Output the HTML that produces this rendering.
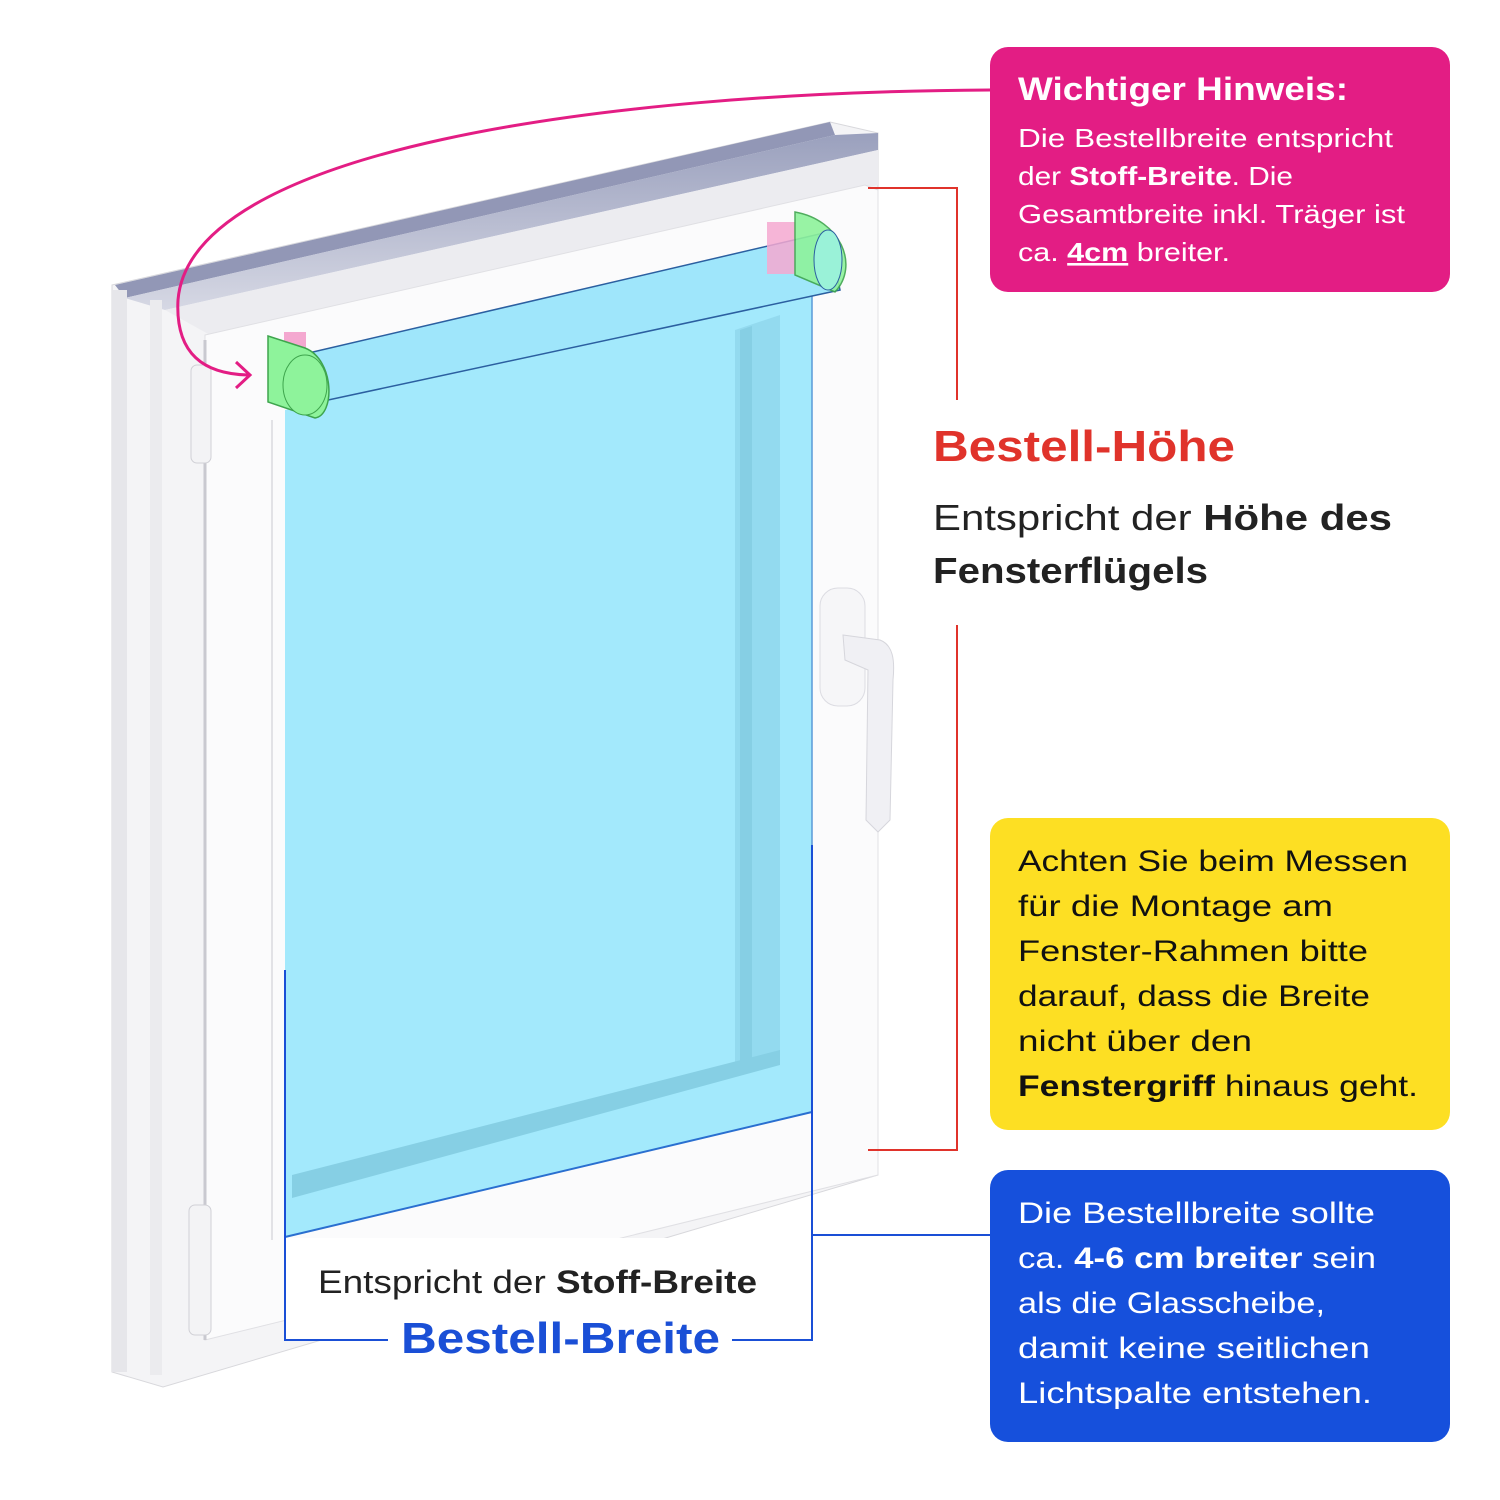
<!DOCTYPE html>
<html><head><meta charset="utf-8"><style>html,body{margin:0;padding:0;background:#fff}svg{display:block}text{font-family:"Liberation Sans",sans-serif}</style></head><body>
<svg width="1500" height="1500" viewBox="0 0 1500 1500" xmlns="http://www.w3.org/2000/svg">
<defs>
<linearGradient id="rail" x1="0" y1="0" x2="0" y2="1"><stop offset="0" stop-color="#9aa0bd"/><stop offset="1" stop-color="#d6d8e4"/></linearGradient>
</defs>
<polygon points="112,285 830,122 878,133 878,1175 163,1387 112,1372" fill="#f4f4f6" stroke="#d8d8dc"/>
<polygon points="115,285 830,122 835,135 125,298" fill="#9297b6"/>
<polygon points="125,298 835,135 878,133 878,150 165,310" fill="url(#rail)"/>
<polygon points="165,310 878,150 878,185 210,335" fill="#ececf0"/>
<rect x="112" y="290" width="15" height="1082" fill="#e6e6ea"/>
<rect x="150" y="300" width="12" height="1075" fill="#ebebee"/>
<polygon points="205,335 865,185 878,190 878,1175 205,1340" fill="#fbfbfc" stroke="#e0e0e4"/>
<line x1="205" y1="340" x2="205" y2="1340" stroke="#c9c9d0" stroke-width="3"/>
<line x1="272" y1="420" x2="272" y2="1240" stroke="#e2e2e6" stroke-width="2"/>
<rect x="191" y="365" width="20" height="98" rx="6" fill="#f3f3f5" stroke="#d0d0d6"/>
<rect x="189" y="1205" width="22" height="130" rx="6" fill="#f3f3f5" stroke="#d0d0d6"/>
<polygon points="285,410 812,295 812,1112 285,1237" fill="#a3e9fc"/>
<polygon points="735,330 780,315 780,1055 735,1068" fill="#93daef"/>
<polygon points="740,330 752,326 752,1062 740,1066" fill="#86cfe4"/>
<polygon points="292,1175 780,1050 780,1065 292,1198" fill="#86cfe4"/>
<line x1="285" y1="1237" x2="812" y2="1112" stroke="#2a6fd0" stroke-width="2"/>
<line x1="812" y1="295" x2="812" y2="1112" stroke="#5a9ad8" stroke-width="1.5"/>
<polygon points="300,355 828,232 840,290 305,405" fill="#9fe6fb" stroke="#2b5fa0" stroke-width="1.5"/>
<rect x="767" y="222" width="28" height="52" fill="#f4a8d0" opacity=".85"/>
<path d="M795,212 C840,220 860,265 835,292 L795,275 Z" fill="#8ef39b" stroke="#3ea54d" stroke-width="1.5" opacity=".9"/>
<ellipse cx="828" cy="260" rx="14" ry="30" fill="#9af2d8" stroke="#2b5fa0"/>
<rect x="284" y="332" width="22" height="30" fill="#f4a8d0"/>
<path d="M268,336 L305,348 C335,360 335,415 315,418 L268,402 Z" fill="#8ef39b" stroke="#3ea54d" stroke-width="1.5"/>
<ellipse cx="305" cy="385" rx="22" ry="30" fill="#8ef39b" stroke="#3ea54d"/>
<rect x="820" y="588" width="45" height="118" rx="18" fill="#f6f6f8" stroke="#dcdce2"/>
<path d="M843,635 L880,640 C893,645 895,660 893,680 L890,820 L878,832 L866,820 L868,670 L845,660 Z" fill="#f0f0f4" stroke="#d6d6dc"/>
<rect x="286" y="1238" width="525" height="101" fill="#fff"/>
<polyline points="868,188 957,188 957,400" fill="none" stroke="#e0332b" stroke-width="2"/>
<polyline points="957,625 957,1150 868,1150" fill="none" stroke="#e0332b" stroke-width="2"/>
<polyline points="285,970 285,1340 388,1340" fill="none" stroke="#1a4fd6" stroke-width="2"/>
<polyline points="732,1340 812,1340 812,845" fill="none" stroke="#1a4fd6" stroke-width="2"/>
<line x1="812" y1="1235" x2="990" y2="1235" stroke="#1a4fd6" stroke-width="2"/>
<path d="M990,90 C600,92 190,150 178,300 C175,355 205,374 248,375" fill="none" stroke="#e31d84" stroke-width="3"/>
<polyline points="236,362 250,375 236,388" fill="none" stroke="#e31d84" stroke-width="3"/>
<rect x="990" y="47" width="460" height="245" rx="18" fill="#e31d84"/>
<rect x="990" y="818" width="460" height="312" rx="18" fill="#fddf23"/>
<rect x="990" y="1170" width="460" height="272" rx="18" fill="#1650dc"/>
<g fill="#fff" font-size="26">
<text x="1018" y="100" font-size="32" font-weight="bold" textLength="330" lengthAdjust="spacingAndGlyphs">Wichtiger Hinweis:</text>
<text x="1018" y="147" textLength="375" lengthAdjust="spacingAndGlyphs">Die Bestellbreite entspricht</text>
<text x="1018" y="185" textLength="275" lengthAdjust="spacingAndGlyphs">der <tspan font-weight="bold">Stoff-Breite</tspan>. Die</text>
<text x="1018" y="223" textLength="387" lengthAdjust="spacingAndGlyphs">Gesamtbreite inkl. Träger ist</text>
<text x="1018" y="261" textLength="212" lengthAdjust="spacingAndGlyphs">ca. <tspan font-weight="bold" text-decoration="underline">4cm</tspan> breiter.</text>
</g>
<text x="933" y="461" font-size="44" font-weight="bold" fill="#e0332b" textLength="302" lengthAdjust="spacingAndGlyphs">Bestell-Höhe</text>
<text x="933" y="530" font-size="36" fill="#222" textLength="459" lengthAdjust="spacingAndGlyphs">Entspricht der <tspan font-weight="bold">Höhe des</tspan></text>
<text x="933" y="583" font-size="36" fill="#222" font-weight="bold" textLength="275" lengthAdjust="spacingAndGlyphs">Fensterflügels</text>
<g fill="#111" font-size="30">
<text x="1018" y="871" textLength="390" lengthAdjust="spacingAndGlyphs">Achten Sie beim Messen</text>
<text x="1018" y="916" textLength="315" lengthAdjust="spacingAndGlyphs">für die Montage am</text>
<text x="1018" y="961" textLength="350" lengthAdjust="spacingAndGlyphs">Fenster-Rahmen bitte</text>
<text x="1018" y="1006" textLength="352" lengthAdjust="spacingAndGlyphs">darauf, dass die Breite</text>
<text x="1018" y="1051" textLength="234" lengthAdjust="spacingAndGlyphs">nicht über den</text>
<text x="1018" y="1096" textLength="400" lengthAdjust="spacingAndGlyphs"><tspan font-weight="bold">Fenstergriff</tspan> hinaus geht.</text>
</g>
<g fill="#fff" font-size="30">
<text x="1018" y="1223" textLength="357" lengthAdjust="spacingAndGlyphs">Die Bestellbreite sollte</text>
<text x="1018" y="1268" textLength="358" lengthAdjust="spacingAndGlyphs">ca. <tspan font-weight="bold">4-6 cm breiter</tspan> sein</text>
<text x="1018" y="1313" textLength="307" lengthAdjust="spacingAndGlyphs">als die Glasscheibe,</text>
<text x="1018" y="1358" textLength="352" lengthAdjust="spacingAndGlyphs">damit keine seitlichen</text>
<text x="1018" y="1403" textLength="354" lengthAdjust="spacingAndGlyphs">Lichtspalte entstehen.</text>
</g>
<text x="318" y="1293" font-size="32" fill="#222" textLength="439" lengthAdjust="spacingAndGlyphs">Entspricht der <tspan font-weight="bold">Stoff-Breite</tspan></text>
<text x="401" y="1353" font-size="44" font-weight="bold" fill="#1a4fd6" textLength="319" lengthAdjust="spacingAndGlyphs">Bestell-Breite</text>
</svg>
</body></html>
